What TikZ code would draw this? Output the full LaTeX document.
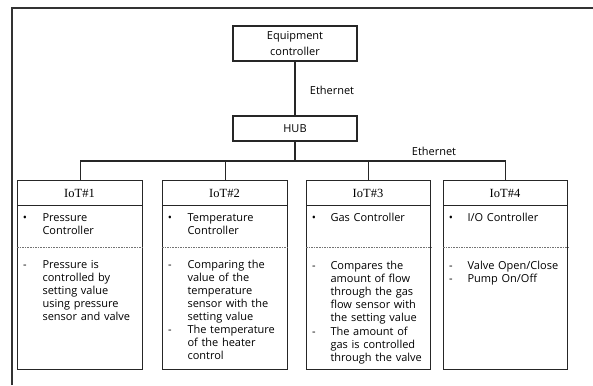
\documentclass[tikz,border=0pt]{standalone}
\usepackage{fontspec}
\setmainfont{Open Sans}
\newfontfamily\titlefont{Liberation Serif}
\begin{document}
\begin{tikzpicture}[x=1pt,y=-1pt,
  line width=1.1pt,
  frameline/.style={draw=black!80,line width=1.5pt},
  ctrlbox/.style={draw=black!85,rectangle,inner sep=0pt,align=center,
    font=\fontsize{11}{15.5}\selectfont},
  iotbox/.style={draw=black!85,rectangle,inner sep=0pt,anchor=north west,
    minimum height=189pt},
  link/.style={draw=black!85},
  sepline/.style={draw=black!85},
  dotline/.style={draw=black!55,line width=0.8pt,dash pattern=on 1.6pt off 1pt},
  title/.style={font=\titlefont\fontsize{12.5}{13}\selectfont},
  lbl/.style={font=\fontsize{11}{13}\selectfont},
  itemmark/.style={anchor=base,inner sep=0pt,font=\fontsize{11}{13.1}\selectfont},
  body/.style={anchor=base west,inner sep=0pt,text width=100pt,align=left,
    font=\fontsize{11}{13.1}\selectfont}
]
\useasboundingbox (0,0) rectangle (593,385);

% outer frame
\draw[frameline] (12,385) -- (12,8) -- (593,8);

% top of the tree
\node[ctrlbox,minimum width=124pt,minimum height=35pt] (ec) at (295,43.5)
  {Equipment\\controller};
\node[ctrlbox,minimum width=124pt,minimum height=25pt] (hub) at (295,128.5) {HUB};
\draw[link] (ec.south) -- (hub.north);
\node[lbl,anchor=west] (eth1) at (306,90) {Ethernet};

% device boxes
\node[iotbox,minimum width=125pt] (iot1) at (17,180) {};
\node[iotbox,minimum width=125pt] (iot2) at (162,180) {};
\node[iotbox,minimum width=124pt] (iot3) at (306,180) {};
\node[iotbox,minimum width=124pt] (iot4) at (443,180) {};

% bus from the hub
\coordinate (bus) at (0,161);
\draw[link] (hub.south) -- (hub.south |- bus);
\draw[link] (iot1.north) -- (iot1.north |- bus) -- (iot4.north |- bus) -- (iot4.north);
\draw[link] (iot2.north) -- (iot2.north |- bus);
\draw[link] (iot3.north) -- (iot3.north |- bus);
\node[lbl,anchor=center] (eth2) at (434,151) {Ethernet};

% title bands and separators
\foreach \b in {iot1,iot2,iot3,iot4}{
  \draw[sepline] ([yshift=-25.5pt]\b.north west) -- ([yshift=-25.5pt]\b.north east);
  \draw[dotline] ([yshift=-67.5pt]\b.north west) -- ([yshift=-67.5pt]\b.north east);
}
\node[title] (t1) at (79.5,193) {IoT\#1};
\node[title] (t2) at (224.5,193) {IoT\#2};
\node[title] (t3) at (368,193) {IoT\#3};
\node[title] (t4) at (505,193) {IoT\#4};

% IoT#1
\node[itemmark] (m1a) at (25,221) {•};
\node[body] (b1a) at (42,221) {Pressure\\Controller};
\node[itemmark] (m1b) at (25,268) {-};
\node[body] (b1b) at (42,268) {Pressure is\\controlled by\\setting value\\using pressure\\sensor and valve};

% IoT#2
\node[itemmark] (m2a) at (170,221) {•};
\node[body] (b2a) at (187,221) {Temperature\\Controller};
\node[itemmark] (m2b) at (170,268) {-};
\node[body] (b2b) at (187,268) {Comparing the\\value of the\\temperature\\sensor with the\\setting value};
\node[itemmark] (m2c) at (170,333.5) {-};
\node[body] (b2c) at (187,333.5) {The temperature\\of the heater\\control};

% IoT#3
\node[itemmark] (m3a) at (314,221) {•};
\node[body] (b3a) at (330,221) {Gas Controller};
\node[itemmark] (m3b) at (314,269.5) {-};
\node[body] (b3b) at (330,269.5) {Compares the\\amount of flow\\through the gas\\flow sensor with\\the setting value};
\node[itemmark] (m3c) at (314,335) {-};
\node[body] (b3c) at (330,335) {The amount of\\gas is controlled\\through the valve};

% IoT#4
\node[itemmark] (m4a) at (451,221) {•};
\node[body] (b4a) at (467,221) {I/O Controller};
\node[itemmark] (m4b) at (451,269.5) {-};
\node[body] (b4b) at (467,269.5) {Valve Open/Close};
\node[itemmark] (m4c) at (451,282) {-};
\node[body] (b4c) at (467,282) {Pump On/Off};
\end{tikzpicture}
\end{document}
